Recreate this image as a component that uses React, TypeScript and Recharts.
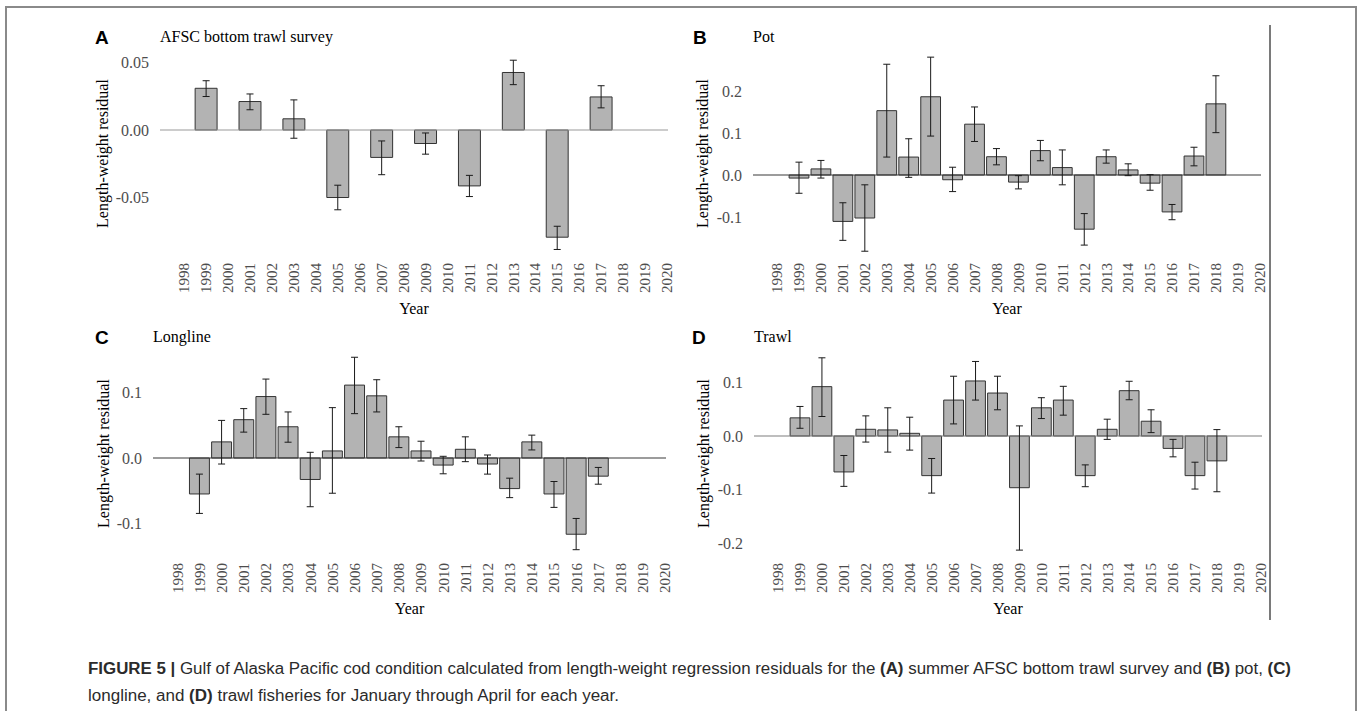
import React from 'react';
import { BarChart, Bar, XAxis, YAxis, ReferenceLine, ErrorBar } from 'recharts';

const SERIF = '"Liberation Serif", "Times New Roman", serif';
const SANS = '"Liberation Sans", Arial, sans-serif';

// x axis: tick labels shown under every panel
const tickYears = [1998, 1999, 2000, 2001, 2002, 2003, 2004, 2005, 2006, 2007, 2008, 2009, 2010, 2011, 2012, 2013, 2014, 2015, 2016, 2017, 2018, 2019, 2020];
const xDomain: [number, number] = [1996.9, 2020.05];

// A - AFSC bottom trawl survey (odd years only)
const yearsA = [1999, 2001, 2003, 2005, 2007, 2009, 2011, 2013, 2015, 2017];
const residA = [0.0309, 0.0211, 0.0083, -0.05, -0.0203, -0.01, -0.0414, 0.0426, -0.0794, 0.0245];
const lowA = [0.0248, 0.015, -0.0061, -0.0591, -0.0331, -0.0179, -0.0493, 0.0336, -0.0885, 0.0164];
const highA = [0.0365, 0.0267, 0.0223, -0.0409, -0.0081, -0.0022, -0.0336, 0.0517, -0.0713, 0.0328];

// B - Pot
const yearsB = [1999, 2000, 2001, 2002, 2003, 2004, 2005, 2006, 2007, 2008, 2009, 2010, 2011, 2012, 2013, 2014, 2015, 2016, 2017, 2018];
const residB = [-0.0073, 0.0145, -0.1105, -0.1024, 0.1532, 0.0427, 0.1863, -0.0113, 0.121, 0.0435, -0.0169, 0.0581, 0.0177, -0.129, 0.0435, 0.0121, -0.0194, -0.0879, 0.0452, 0.1694];
const lowB = [-0.0435, -0.0073, -0.1556, -0.1815, 0.0427, -0.0056, 0.0927, -0.0395, 0.0798, 0.0242, -0.0331, 0.0339, -0.0234, -0.1669, 0.0282, -0.0016, -0.0363, -0.1065, 0.0218, 0.1008];
const highB = [0.0306, 0.0347, -0.0661, -0.0234, 0.2637, 0.0863, 0.2806, 0.0185, 0.162, 0.0629, -0.0016, 0.0823, 0.0597, -0.0919, 0.0597, 0.0266, 0.0008, -0.0702, 0.0661, 0.2363];

// C - Longline
const yearsC = [1999, 2000, 2001, 2002, 2003, 2004, 2005, 2006, 2007, 2008, 2009, 2010, 2011, 2012, 2013, 2014, 2015, 2016, 2017, 2018];
const residC = [-0.0549, 0.0246, 0.0585, 0.0938, 0.0477, -0.0328, 0.0108, 0.1113, 0.0949, 0.0323, 0.0108, -0.0108, 0.0133, -0.0092, -0.0467, 0.0246, -0.0549, -0.1164, -0.0277, 0];
const lowC = [-0.0846, -0.0092, 0.0395, 0.0667, 0.0241, -0.0744, -0.0538, 0.0677, 0.0703, 0.0159, -0.0046, -0.0241, -0.0056, -0.0246, -0.0605, 0.0123, -0.0754, -0.14, -0.04, -0.0292];
const highC = [-0.0246, 0.0574, 0.0754, 0.1205, 0.0703, 0.0087, 0.0769, 0.1538, 0.1195, 0.0477, 0.0256, 0.0026, 0.0323, 0.0046, -0.0308, 0.0349, -0.0359, -0.0923, -0.0144, 0.0297];

// D - Trawl
const yearsD = [1999, 2000, 2001, 2002, 2003, 2004, 2005, 2006, 2007, 2008, 2009, 2010, 2011, 2012, 2013, 2014, 2015, 2016, 2017, 2018];
const residD = [0.0338, 0.0919, -0.0669, 0.0125, 0.0113, 0.005, -0.0738, 0.0669, 0.1025, 0.08, -0.0963, 0.0525, 0.0669, -0.0738, 0.0125, 0.0844, 0.0275, -0.0231, -0.0738, -0.0463];
const lowD = [0.0144, 0.0363, -0.0938, -0.0113, -0.03, -0.0263, -0.1063, 0.0225, 0.0669, 0.0488, -0.2125, 0.0325, 0.0388, -0.0944, -0.0063, 0.0675, 0.0063, -0.0388, -0.0988, -0.1038];
const highD = [0.055, 0.1456, -0.0363, 0.0375, 0.0525, 0.035, -0.0419, 0.1113, 0.1388, 0.1113, 0.0188, 0.0713, 0.0925, -0.0538, 0.0313, 0.1019, 0.0488, -0.0063, -0.0488, 0.0119];

type Row = { year: number; value: number; err: [number, number] };

function buildRows(years: number[], values: number[], lows: number[], highs: number[]): Row[] {
  return years.map((year, i) => ({
    year,
    value: values[i],
    err: [values[i] - lows[i], highs[i] - values[i]],
  }));
}

const YearTick = (props: any) => {
  const { x, y, payload } = props;
  return (
    <text
      x={x}
      y={y}
      dy="0.35em"
      transform={`rotate(-90, ${x}, ${y})`}
      textAnchor="end"
      fill="#4d4d4d"
      fontSize={15}
      fontFamily={SERIF}
    >
      {payload.value}
    </text>
  );
};

interface PanelProps {
  letter: string;
  title: string;
  rows: Row[];
  left: number;
  top: number;
  width: number;
  axisWidth: number;
  marginRight: number;
  yDomain: [number, number];
  yTicks: number[];
  digits: number;
  zeroColor: string;
  letterX: number;
  yLabelX: number;
}

function Panel({ letter, title, rows, left, top, width, axisWidth, marginRight, yDomain, yTicks, digits, zeroColor, letterX, yLabelX }: PanelProps) {
  const height = 300;
  const plotWidth = width - axisWidth - marginRight;
  const pxPerYear = plotWidth / (xDomain[1] - xDomain[0]);
  return (
    <div style={{ position: 'absolute', left, top, width, height, fontFamily: SERIF }}>
      <div style={{ position: 'absolute', left: letterX - left, top: 8, fontFamily: SANS, fontWeight: 'bold', fontSize: 19, lineHeight: '19px', color: '#000' }}>
        {letter}
      </div>
      <div style={{ position: 'absolute', left: axisWidth, top: 9, fontFamily: SERIF, fontSize: 16, lineHeight: '16px', color: '#000', whiteSpace: 'nowrap' }}>
        {title}
      </div>
      <BarChart width={width} height={height} data={rows} margin={{ top: 32, right: marginRight, bottom: 0, left: 0 }}>
        <XAxis
          dataKey="year"
          type="number"
          domain={xDomain}
          ticks={tickYears}
          interval={0}
          allowDataOverflow
          axisLine={false}
          tickLine={false}
          tickSize={0}
          tickMargin={8}
          height={65}
          tick={YearTick}
          label={{ value: 'Year', position: 'insideBottom', offset: 6, fill: '#000', fontSize: 16, fontFamily: SERIF }}
        />
        <YAxis
          type="number"
          domain={yDomain}
          ticks={yTicks}
          allowDataOverflow
          axisLine={false}
          tickLine={false}
          tickSize={0}
          tickMargin={11}
          width={axisWidth}
          tickFormatter={(v: number) => v.toFixed(digits)}
          tick={{ fill: '#4d4d4d', fontSize: 16, fontFamily: SERIF }}
          label={{
            value: 'Length-weight residual',
            angle: -90,
            position: 'insideLeft',
            offset: yLabelX - left,
            fill: '#000',
            fontSize: 16,
            fontFamily: SERIF,
            style: { textAnchor: 'middle' },
          }}
        />
        <ReferenceLine y={0} stroke={zeroColor} strokeWidth={1.2} ifOverflow="extendDomain" />
        <Bar dataKey="value" fill="#b3b3b3" stroke="#333333" strokeWidth={1} barSize={pxPerYear} isAnimationActive={false}>
          <ErrorBar dataKey="err" width={3.5} stroke="#1a1a1a" strokeWidth={1} direction="y" isAnimationActive={false} />
        </Bar>
      </BarChart>
    </div>
  );
}

export default function App() {
  const rowsA = buildRows(yearsA, residA, lowA, highA);
  const rowsB = buildRows(yearsB, residB, lowB, highB);
  const rowsC = buildRows(yearsC, residC, lowC, highC);
  const rowsD = buildRows(yearsD, residD, lowD, highD);

  return (
    <div style={{ position: 'absolute', left: 0, top: 0, width: 1360, height: 711, overflow: 'hidden', background: '#fff' }}>
      <div style={{ position: 'absolute', left: 5, top: 6, width: 1348, height: 760, border: '2px solid #8a8a8a' }} />
      <div style={{ position: 'absolute', left: 1269, top: 25, width: 2, height: 595, background: '#7a7a7a' }} />

      <Panel letter="A" title="AFSC bottom trawl survey" rows={rowsA} left={90} top={20} width={600} axisWidth={70} marginRight={22}
        yDomain={[-0.09259, 0.05778]} yTicks={[-0.05, 0, 0.05]} digits={2} zeroColor="#9a9a9a" letterX={95} yLabelX={102} />
      <Panel letter="B" title="Pot" rows={rowsB} left={690} top={20} width={578} axisWidth={63} marginRight={7}
        yDomain={[-0.19048, 0.29286]} yTicks={[-0.1, 0, 0.1, 0.2]} digits={1} zeroColor="#3a3a3a" letterX={693} yLabelX={702} />
      <Panel letter="C" title="Longline" rows={rowsC} left={90} top={320} width={600} axisWidth={63} marginRight={24}
        yDomain={[-0.14809, 0.16183]} yTicks={[-0.1, 0, 0.1]} digits={1} zeroColor="#3a3a3a" letterX={95} yLabelX={103} />
      <Panel letter="D" title="Trawl" rows={rowsD} left={690} top={320} width={578} axisWidth={64} marginRight={6}
        yDomain={[-0.2216, 0.15642]} yTicks={[-0.2, -0.1, 0, 0.1]} digits={1} zeroColor="#7f7f7f" letterX={692} yLabelX={703} />

      <svg style={{ position: 'absolute', left: 0, top: 640 }} width={1360} height={71}>
        <text x={88} y={34} textLength={1203} lengthAdjust="spacingAndGlyphs" fontFamily={SANS} fontSize={16} fill="#2b2b2b">
          <tspan fontWeight="bold">{'FIGURE 5 | '}</tspan>
          {'Gulf of Alaska Pacific cod condition calculated from length-weight regression residuals for the '}
          <tspan fontWeight="bold">{'(A)'}</tspan>
          {' summer AFSC bottom trawl survey and '}
          <tspan fontWeight="bold">{'(B)'}</tspan>
          {' pot, '}
          <tspan fontWeight="bold">{'(C)'}</tspan>
        </text>
        <text x={88} y={61} textLength={531} lengthAdjust="spacingAndGlyphs" fontFamily={SANS} fontSize={16} fill="#2b2b2b">
          {'longline, and '}
          <tspan fontWeight="bold">{'(D)'}</tspan>
          {' trawl fisheries for January through April for each year.'}
        </text>
      </svg>
    </div>
  );
}
